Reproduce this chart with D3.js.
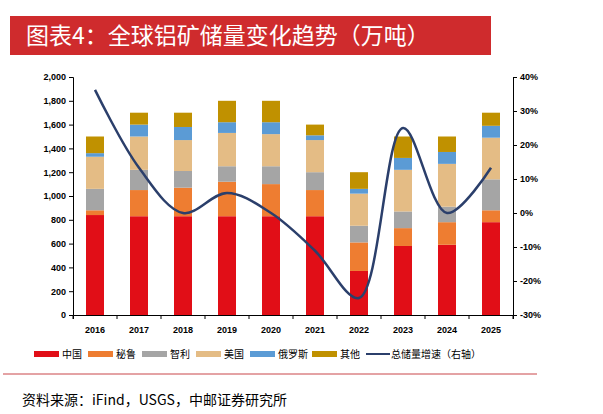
<!DOCTYPE html><html><head><meta charset="utf-8"><script src="https://cdn.jsdelivr.net/npm/d3@7"></script>
<style>body{margin:0;background:#fff;font-family:"Noto Sans CJK SC","Liberation Sans",sans-serif}</style></head><body><svg id="c" width="603" height="414"></svg>
<script>
const years=["2016","2017","2018","2019","2020","2021","2022","2023","2024","2025"];
const china=[840,830,830,830,830,830,370,580,590,780];
const peru=[40,220,240,290,270,220,240,150,190,100];
const chile=[180,170,140,130,150,150,140,140,130,260];
const usa=[270,280,260,280,270,270,270,350,360,350];
const russia=[30,100,110,90,100,40,40,100,100,100];
const other=[140,100,120,180,180,90,140,180,130,110];
const growth=[36.2,13.3,0,5.9,0,-11.1,-25,25,0,13.3];
const seriesNames=["中国","秘鲁","智利","美国","俄罗斯","其他"];
const colors=["#e10e17","#ee7d31","#a5a5a5","#e4bc85","#5b9bd5","#c09100"];
const lineName="总储量增速（右轴）";
const leftTicks=d3.range(0,2001,200), rightTicks=d3.range(-30,41,10);

const svg=d3.select("#c");
svg.append("rect").attr("x",10).attr("y",16).attr("width",481).attr("height",39).attr("fill","#cf2b2d");
svg.append("text").attr("x",26).attr("y",44).attr("fill","#fff").attr("font-size",23).text("图表4：全球铝矿储量变化趋势（万吨）");

const x=d3.scaleBand().domain(years).range([73,513]).paddingInner(0.6).paddingOuter(0.3);
const y=d3.scaleLinear().domain([0,2000]).range([315,77]);
const y2=d3.scaleLinear().domain([-30,40]).range([315,77]);
const data=years.map((yr,i)=>({yr,s0:china[i],s1:peru[i],s2:chile[i],s3:usa[i],s4:russia[i],s5:other[i]}));
const stack=d3.stack().keys(["s0","s1","s2","s3","s4","s5"])(data);
const bx=d3.scaleBand().domain(years).range([73,513]);
stack.forEach((s,k)=>{
 svg.append("g").selectAll("rect").data(s).join("rect")
  .attr("x",d=>bx(d.data.yr)+bx.bandwidth()/2-9).attr("width",18)
  .attr("y",d=>y(d[1])).attr("height",d=>y(d[0])-y(d[1])).attr("fill",colors[k]);
});
const fs="font-size:9px;font-weight:bold;font-family:'Liberation Sans',Arial,sans-serif";
const la=svg.append("g").attr("transform","translate(73,0)").call(d3.axisLeft(y).tickValues(leftTicks).tickFormat(d3.format(",")).tickSize(4));
la.selectAll("text").attr("style",fs).attr("fill","#000");
const ra=svg.append("g").attr("transform","translate(513,0)").call(d3.axisRight(y2).tickValues(rightTicks).tickFormat(d=>d+"%").tickSize(4));
ra.selectAll("text").attr("style",fs).attr("fill","#000");
const ba=svg.append("g").attr("transform","translate(0,315)").call(d3.axisBottom(bx).tickSize(4).tickPadding(8));
ba.selectAll(".tick line").attr("transform",`translate(${-bx.bandwidth()/2},0)`);
ba.append("line").attr("x1",513).attr("x2",513).attr("y1",0).attr("y2",4).attr("stroke","#000");
ba.selectAll("text").attr("style",fs).attr("fill","#000");
[la,ra,ba].forEach(a=>a.selectAll("path,line").attr("stroke","#000"));

const line=d3.line().x((d,i)=>bx(years[i])+bx.bandwidth()/2).y(d=>y2(d)).curve(d3.curveCatmullRom.alpha(0.5));
svg.append("path").attr("d",line(growth)).attr("fill","none").attr("stroke","#2b3f6b").attr("stroke-width",2.5);

const lx=[34,88,142,196,250,312];
seriesNames.forEach((n,i)=>{
 svg.append("rect").attr("x",lx[i]).attr("y",351).attr("width",25).attr("height",6).attr("fill",colors[i]);
 svg.append("text").attr("x",lx[i]+28).attr("y",358).attr("font-size",10).text(n);
});
svg.append("line").attr("x1",366).attr("x2",390).attr("y1",354).attr("y2",354).attr("stroke","#2b3f6b").attr("stroke-width",2);
svg.append("text").attr("x",391).attr("y",358).attr("font-size",10).text(lineName);
svg.append("line").attr("x1",3).attr("x2",537).attr("y1",374).attr("y2",374).attr("stroke","#c9474b").attr("stroke-width",1);
svg.append("text").attr("x",22).attr("y",405).attr("font-size",14).text("资料来源：iFind，USGS，中邮证券研究所");
</script></body></html>
